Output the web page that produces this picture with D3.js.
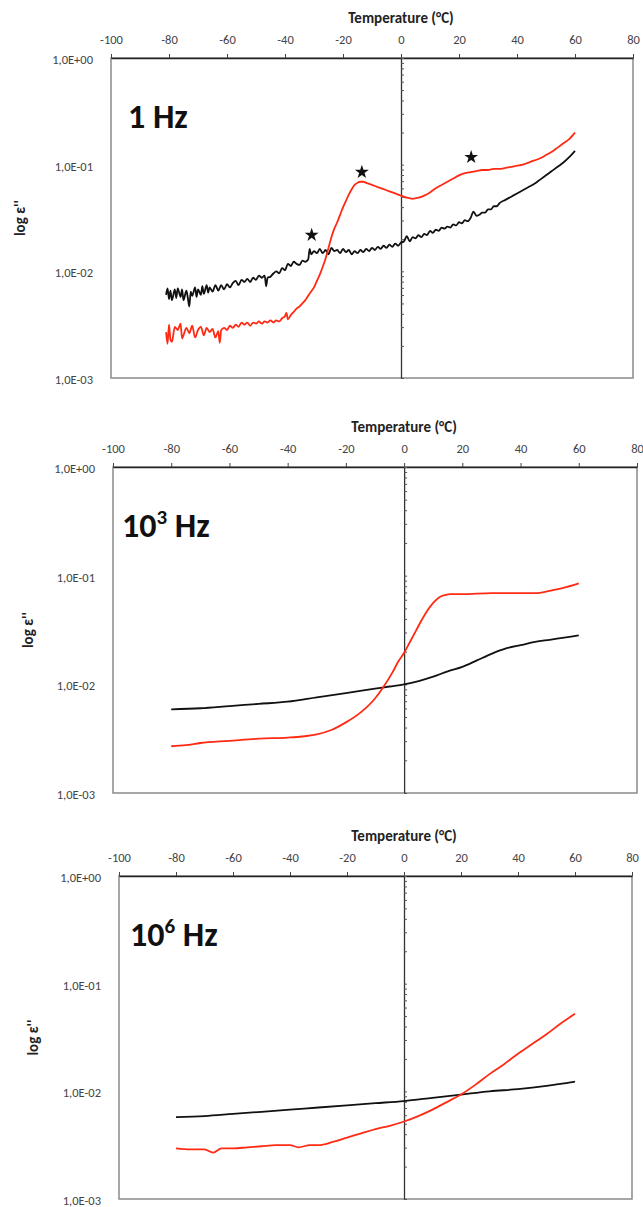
<!DOCTYPE html>
<html>
<head>
<meta charset="utf-8">
<script src="https://cdn.jsdelivr.net/npm/d3@7"></script>
<style>
  body { margin: 0; background: #fff; }
  svg text { font-family: Carlito, Lato, "Open Sans", sans-serif; }
  .tick text { fill: #444; font-size: 12.5px; }
</style>
</head>
<body>
<div id="chart"></div>
<script>
// x ticks shared by all three panels
var tempTicks = [-100, -80, -60, -40, -20, 0, 20, 40, 60, 80];
var yTickLabels = ["1,0E-03", "1,0E-02", "1,0E-01", "1,0E+00"];
var yTickValues = [1e-3, 1e-2, 1e-1, 1];

// [temperature °C, log10 eps'']
var black1Hz = [
  [-81,-2.22],[-80.5,-2.16],[-80,-2.26],[-79.5,-2.18],[-79,-2.27],[-78,-2.17],[-77.5,-2.25],[-77,-2.16],
  [-76,-2.24],[-75.5,-2.17],[-75,-2.27],[-74,-2.18],[-73.5,-2.25],[-73,-2.33],[-72.5,-2.19],[-72,-2.23],
  [-71,-2.15],[-70.5,-2.24],[-70,-2.17],[-69,-2.22],[-68.5,-2.14],[-68,-2.21],[-67,-2.13],[-66.5,-2.20],
  [-66,-2.15],[-65,-2.19],[-64,-2.13],[-63,-2.18],[-62,-2.13],[-61,-2.17],[-60,-2.12],[-59,-2.15],
  [-58,-2.11],[-57,-2.09],[-56,-2.13],[-55,-2.08],[-54,-2.10],[-53,-2.07],[-52,-2.10],[-51,-2.06],
  [-50,-2.08],[-49,-2.04],[-48,-2.06],[-47,-2.04],[-46.5,-2.14],[-46,-2.06],[-45,-2.05],[-44,-2.02],
  [-43,-2.00],[-42,-2.02],[-41,-1.97],[-40,-1.99],[-39,-1.93],[-38,-1.95],[-37,-1.91],[-36,-1.93],
  [-35,-1.94],[-34,-1.90],[-33,-1.91],[-32,-1.89],[-31.5,-1.79],[-31,-1.84],[-30,-1.81],[-29,-1.83],
  [-28,-1.79],[-27,-1.83],[-26,-1.80],[-25,-1.84],[-24,-1.78],[-23,-1.81],[-22,-1.80],[-21,-1.83],
  [-20,-1.79],[-19,-1.82],[-18,-1.80],[-17,-1.84],[-16,-1.81],[-15,-1.83],[-14,-1.80],[-13,-1.82],
  [-12,-1.79],[-11,-1.81],[-10,-1.78],[-9,-1.80],[-8,-1.77],[-7,-1.79],[-6,-1.76],[-5,-1.78],
  [-4,-1.75],[-3,-1.77],[-2,-1.74],[-1,-1.76],[0,-1.73],[1,-1.72],[2,-1.67],[3,-1.72],
  [4,-1.68],[5,-1.69],[6,-1.66],[7,-1.68],[8,-1.65],[9,-1.66],[10,-1.62],[11,-1.64],
  [12,-1.61],[13,-1.62],[14,-1.59],[15,-1.60],[16,-1.58],[17,-1.59],[18,-1.56],[19,-1.57],
  [20,-1.54],[21,-1.55],[22,-1.52],[23,-1.53],[24,-1.50],[25,-1.44],[26,-1.48],[27,-1.47],
  [28,-1.45],[29,-1.45],[30,-1.42],[31,-1.42],[32,-1.39],[33,-1.39],[34,-1.36],[36,-1.33],
  [38,-1.30],[40,-1.27],[42,-1.24],[44,-1.21],[46,-1.18],[48,-1.14],[50,-1.10],[52,-1.06],
  [54,-1.02],[56,-0.98],[58,-0.93],[60,-0.87]
];
var red1Hz = [
  [-81,-2.57],[-80.5,-2.68],[-80,-2.50],[-79.5,-2.64],[-79,-2.66],[-78,-2.52],[-77,-2.55],[-76,-2.49],
  [-75.5,-2.63],[-75,-2.60],[-74,-2.53],[-73,-2.58],[-72,-2.51],[-71,-2.62],[-70,-2.55],[-69,-2.52],
  [-68,-2.60],[-67,-2.53],[-66,-2.57],[-65,-2.54],[-64,-2.62],[-63,-2.56],[-62.5,-2.67],[-62,-2.55],
  [-61,-2.53],[-60,-2.55],[-59,-2.51],[-58,-2.53],[-57,-2.50],[-56,-2.52],[-55,-2.48],[-54,-2.50],
  [-53,-2.48],[-52,-2.51],[-51,-2.48],[-50,-2.49],[-49,-2.47],[-48,-2.49],[-47,-2.47],[-46,-2.48],
  [-45,-2.46],[-44,-2.48],[-43,-2.46],[-42,-2.47],[-41,-2.44],[-40,-2.42],[-39.5,-2.39],[-39,-2.45],
  [-38,-2.41],[-37,-2.38],[-36,-2.35],[-35,-2.33],[-34,-2.30],[-33,-2.27],[-32,-2.23],[-31,-2.19],
  [-30,-2.15],[-29,-2.09],[-28,-2.03],[-27,-1.96],[-26,-1.88],[-25,-1.78],[-24,-1.68],[-23,-1.60],
  [-22,-1.54],[-21,-1.47],[-20,-1.40],[-19,-1.34],[-18,-1.28],[-17,-1.23],[-16,-1.19],[-15,-1.17],
  [-14,-1.16],[-13,-1.16],[-12,-1.17],[-10,-1.19],[-8,-1.21],[-6,-1.23],[-4,-1.25],[-2,-1.27],
  [0,-1.29],[2,-1.31],[4,-1.32],[6,-1.31],[8,-1.29],[10,-1.26],[12,-1.22],[14,-1.19],
  [16,-1.16],[18,-1.13],[20,-1.10],[22,-1.08],[24,-1.07],[26,-1.06],[28,-1.05],[30,-1.05],
  [32,-1.04],[34,-1.04],[36,-1.03],[38,-1.02],[40,-1.01],[42,-1.00],[44,-0.98],[46,-0.96],
  [48,-0.94],[50,-0.91],[52,-0.88],[54,-0.84],[56,-0.80],[58,-0.76],[60,-0.70]
];
// asterisks marking the relaxations at 1 Hz
var stars1Hz = [[-30.8,-1.66],[-13.5,-1.07],[24.2,-0.93]];

var black1kHz = [
  [-80,-2.23],[-70,-2.22],[-60,-2.20],[-50,-2.18],[-40,-2.16],[-30,-2.12],[-20,-2.08],[-10,-2.04],
  [-5,-2.02],[0,-2.00],[5,-1.97],[10,-1.93],[15,-1.88],[20,-1.84],[25,-1.78],[30,-1.72],
  [35,-1.67],[40,-1.64],[45,-1.61],[50,-1.59],[55,-1.57],[60,-1.55]
];
var red1kHz = [
  [-80,-2.57],[-75,-2.56],[-70,-2.54],[-60,-2.52],[-50,-2.50],[-40,-2.49],[-35,-2.48],[-30,-2.46],
  [-25,-2.42],[-20,-2.35],[-15,-2.26],[-10,-2.13],[-7,-2.02],[-4,-1.89],[-2,-1.79],[0,-1.71],
  [2,-1.61],[4,-1.51],[6,-1.41],[8,-1.32],[10,-1.25],[12,-1.20],[14,-1.18],[16,-1.17],
  [20,-1.17],[30,-1.16],[40,-1.16],[46,-1.16],[50,-1.14],[55,-1.11],[60,-1.07]
];

var black1MHz = [
  [-80,-2.24],[-70,-2.23],[-60,-2.21],[-50,-2.19],[-40,-2.17],[-30,-2.15],[-20,-2.13],[-10,-2.11],
  [0,-2.09],[10,-2.06],[20,-2.03],[30,-2.00],[40,-1.98],[50,-1.95],[60,-1.91]
];
var red1MHz = [
  [-80,-2.53],[-75,-2.54],[-70,-2.54],[-67,-2.57],[-64,-2.53],[-60,-2.53],[-55,-2.52],[-50,-2.51],
  [-45,-2.50],[-40,-2.50],[-37,-2.52],[-33,-2.50],[-30,-2.50],[-25,-2.47],[-20,-2.43],[-15,-2.39],
  [-10,-2.35],[-5,-2.32],[0,-2.28],[5,-2.23],[10,-2.17],[15,-2.10],[20,-2.03],[25,-1.94],
  [30,-1.84],[35,-1.75],[40,-1.65],[45,-1.56],[50,-1.47],[55,-1.37],[60,-1.28]
];

// panel frames (pixels) and contents
var panels = [
  { label: "1 Hz", exp: null, left: 111, right: 633, top: 58, bottom: 378, labelDx: 17, titleX: 20,
    black: black1Hz, red: red1Hz, stars: stars1Hz },
  { label: "10", exp: "3", left: 113, right: 637, top: 467, bottom: 793, labelDx: 9, titleX: 28,
    black: black1kHz, red: red1kHz, stars: [] },
  { label: "10", exp: "6", left: 119, right: 632, top: 876, bottom: 1199, labelDx: 11, titleX: 33,
    black: black1MHz, red: red1MHz, stars: [] }
];

var svg = d3.select("#chart").append("svg")
  .attr("width", 643)
  .attr("height", 1207);

function drawPanel(p) {
  var xScale = d3.scaleLinear().domain([-100, 80]).range([p.left, p.right]);
  var yScale = d3.scaleLog().domain([1e-3, 1]).range([p.bottom, p.top]);
  var g = svg.append("g");

  // plot area frame
  g.append("rect")
    .attr("x", p.left).attr("y", p.top)
    .attr("width", p.right - p.left).attr("height", p.bottom - p.top)
    .attr("fill", "none")
    .attr("stroke", "#8a8a8a")
    .attr("stroke-width", 1.5);

  // temperature axis along the top
  var xAxis = g.append("g")
    .attr("transform", "translate(0," + p.top + ")")
    .call(d3.axisTop(xScale).tickValues(tempTicks).tickSizeInner(4).tickSizeOuter(0).tickPadding(10)
      .tickFormat(function (d) { return d; }));
  xAxis.select(".domain").attr("stroke", "#222").attr("stroke-width", 1.5);
  xAxis.selectAll(".tick line").attr("stroke", "#444");

  g.append("text")
    .attr("x", xScale(0))
    .attr("y", p.top - 35)
    .attr("text-anchor", "middle")
    .attr("font-weight", "bold")
    .attr("font-size", 15)
    .attr("fill", "#222")
    .text("Temperature (°C)");

  // y labels at the left edge
  var yAxis = g.append("g")
    .attr("transform", "translate(" + p.left + ",0)")
    .call(d3.axisLeft(yScale).tickValues(yTickValues).tickSize(0).tickPadding(18)
      .tickFormat(function (d, i) { return yTickLabels[i]; }));
  yAxis.select(".domain").remove();
  yAxis.selectAll("text").attr("dy", "0.45em");

  // value axis crossing at 0 °C, with log minor ticks
  var minor = [];
  [1e-3, 1e-2, 1e-1].forEach(function (dec) {
    for (var k = 1; k < 10; k++) minor.push(k * dec);
  });
  minor.push(1);
  var zeroAxis = g.append("g")
    .attr("transform", "translate(" + xScale(0) + ",0)")
    .call(d3.axisRight(yScale).tickValues(minor).tickSizeInner(3).tickSizeOuter(0).tickFormat(""));
  zeroAxis.select(".domain").attr("stroke", "#333").attr("stroke-width", 1.3);
  zeroAxis.selectAll(".tick line").attr("stroke", "#555");

  g.append("text")
    .attr("transform", "translate(" + p.titleX + "," + ((p.top + p.bottom) / 2) + ") rotate(-90)")
    .attr("text-anchor", "middle")
    .attr("dy", "0.35em")
    .attr("font-weight", "bold")
    .attr("font-size", 15)
    .attr("fill", "#222")
    .text("log ε''");

  // frequency label
  var lbl = g.append("text")
    .attr("x", p.left + p.labelDx)
    .attr("y", p.top + 70)
    .attr("font-weight", "bold")
    .attr("font-size", 34)
    .attr("fill", "#111");
  lbl.append("tspan").text(p.label);
  if (p.exp) {
    lbl.append("tspan").attr("font-size", 21).attr("dy", -13).text(p.exp);
    lbl.append("tspan").attr("dy", 13).text(" Hz");
  }

  var line = d3.line()
    .curve(d3.curveMonotoneX)
    .x(function (d) { return xScale(d[0]); })
    .y(function (d) { return yScale(Math.pow(10, d[1])); });

  g.append("path").datum(p.black)
    .attr("fill", "none").attr("stroke", "#111").attr("stroke-width", 1.8)
    .attr("stroke-linejoin", "round")
    .attr("d", line);
  g.append("path").datum(p.red)
    .attr("fill", "none").attr("stroke", "#ff2a14").attr("stroke-width", 1.8)
    .attr("stroke-linejoin", "round")
    .attr("d", line);

  g.selectAll(".star").data(p.stars).enter().append("path")
    .attr("class", "star")
    .attr("transform", function (d) {
      return "translate(" + xScale(d[0]) + "," + yScale(Math.pow(10, d[1])) + ")";
    })
    .attr("d", d3.symbol().type(d3.symbolStar).size(60))
    .attr("fill", "#111");
}

panels.forEach(drawPanel);
</script>
</body>
</html>
